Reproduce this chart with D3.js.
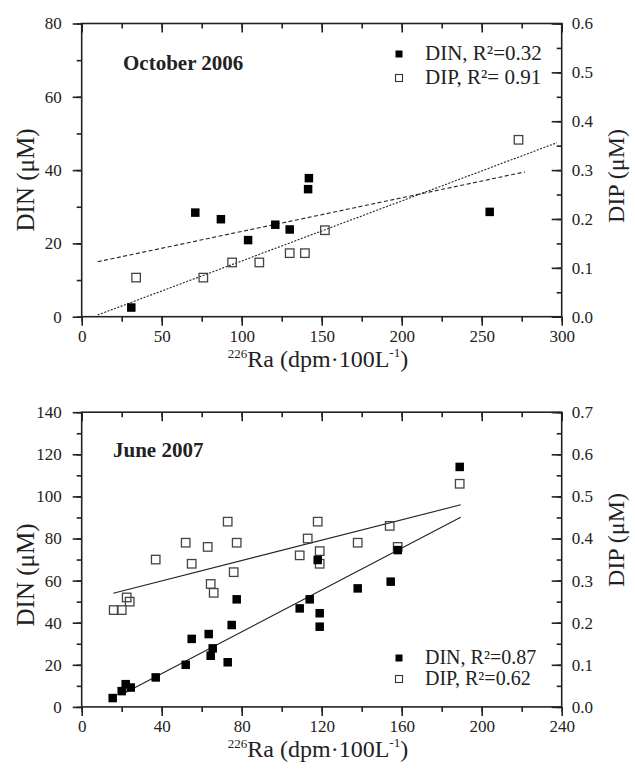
<!DOCTYPE html>
<html>
<head>
<meta charset="utf-8">
<script src="https://cdn.jsdelivr.net/npm/d3@7"></script>
<style>
    body { margin: 0; background: #fff; }
    svg { display: block; }
    text { font-family: "Liberation Serif", "Times New Roman", serif; fill: #222; }
</style>
</head>
<body>
<svg width="635" height="778"></svg>
<script>
    // October 2006 panel
    var octDinRa = [31, 71, 87, 104, 121, 130, 141.5, 142, 255];
    var octDin = [2.5, 28.4, 26.6, 20.9, 25.1, 23.8, 34.8, 37.8, 28.6];
    var octDipRa = [34, 76, 94, 111, 130, 139.5, 152, 273];
    var octDip = [0.080, 0.080, 0.111, 0.111, 0.130, 0.130, 0.177, 0.362];
    var octDinFitRa = [10, 277];
    var octDinFit = [15, 39.5];
    var octDipFitRa = [10, 297];
    var octDipFit = [0.0035, 0.356];

    // June 2007 panel
    var junDinRa = [15.5, 20, 22, 24.5, 37, 52, 55, 63.5, 64.5, 65.5, 73, 75, 77.5, 109, 114, 118, 119, 119, 138, 154.5, 158, 189];
    var junDin = [4.2, 7.5, 10.8, 9.2, 14, 20, 32.3, 34.6, 24.3, 27.8, 21.2, 38.9, 51.1, 46.8, 51.1, 69.8, 44.5, 38.1, 56.3, 59.5, 74.5, 114];
    var junDipRa = [16, 20, 22.5, 24, 37, 52, 55, 63, 64.5, 66, 73, 76, 77.5, 109, 113, 118, 119, 119, 138, 154, 158, 189];
    var junDip = [0.23, 0.23, 0.26, 0.25, 0.35, 0.39, 0.34, 0.38, 0.292, 0.271, 0.44, 0.32, 0.39, 0.36, 0.40, 0.44, 0.37, 0.34, 0.39, 0.43, 0.38, 0.53];
    var junDinFitRa = [20, 189.5];
    var junDinFit = [5.9, 90.1];
    var junDipFitRa = [15.8, 189.5];
    var junDipFit = [0.27, 0.48];

    var svg = d3.select("svg");

    function drawPanel(o) {
        var x = d3.scaleLinear().domain(o.xDomain).range([81.7, 561.7]);
        var yL = d3.scaleLinear().domain(o.yLDomain).range([o.bottom, o.top]);
        var yR = d3.scaleLinear().domain(o.yRDomain).range([o.bottom, o.top]);
        var g = svg.append("g");

        // minor + major ticks, no labels
        function ticks(axis, tr, vals, size) {
            var a = g.append("g").attr("transform", tr)
                .call(axis.tickValues(vals).tickSize(size).tickFormat(""));
            a.select(".domain").remove();
            a.selectAll("text").remove();
            a.selectAll("line").attr("stroke", "#222").attr("stroke-width", 1.6);
        }
        var xMinor = d3.range(o.xDomain[0], o.xDomain[1] + 1, o.xMinor);
        var xMajor = d3.range(o.xDomain[0], o.xDomain[1] + 1, o.xMajor);
        ticks(d3.axisBottom(x), "translate(0," + o.bottom + ")", xMinor, 5);
        ticks(d3.axisBottom(x), "translate(0," + o.bottom + ")", xMajor, 9);
        ticks(d3.axisBottom(x), "translate(0," + o.top + ")", xMinor, 5);
        ticks(d3.axisBottom(x), "translate(0," + o.top + ")", xMajor, 9);
        ticks(d3.axisLeft(yL), "translate(81.7,0)", d3.range(o.yLDomain[0], o.yLDomain[1] + 1, o.yLMinor), 5);
        ticks(d3.axisLeft(yL), "translate(81.7,0)", d3.range(o.yLDomain[0], o.yLDomain[1] + 1, o.yLMajor), 9);
        var rMinor = d3.range(0, Math.round(o.yRDomain[1] / 0.05) + 1).map(function(i) { return i * 0.05; });
        var rMajor = d3.range(0, Math.round(o.yRDomain[1] / 0.1) + 1).map(function(i) { return i * 0.1; });
        ticks(d3.axisLeft(yR), "translate(561.7,0)", rMinor, 5);
        ticks(d3.axisLeft(yR), "translate(561.7,0)", rMajor, 10);

        // tick labels
        g.append("g").attr("transform", "translate(0," + o.bottom + ")")
            .call(d3.axisBottom(x).tickValues(xMajor).tickSize(0).tickPadding(13))
            .call(function(s) { s.select(".domain").remove(); })
            .selectAll("text").style("font-size", "17px").attr("fill", "#333");
        g.append("g").attr("transform", "translate(81.7,0)")
            .call(d3.axisLeft(yL).tickValues(d3.range(o.yLDomain[0], o.yLDomain[1] + 1, o.yLMajor)).tickSize(0).tickPadding(20))
            .call(function(s) { s.select(".domain").remove(); })
            .selectAll("text").style("font-size", "17px").attr("fill", "#333");
        g.append("g").attr("transform", "translate(561.7,0)")
            .call(d3.axisRight(yR).tickValues(rMajor).tickSize(0).tickPadding(10).tickFormat(d3.format(".1f")))
            .call(function(s) { s.select(".domain").remove(); })
            .selectAll("text").style("font-size", "17px").attr("fill", "#333");

        g.append("rect")
            .attr("x", 81.7).attr("y", o.top)
            .attr("width", 480).attr("height", o.bottom - o.top)
            .attr("fill", "none").attr("stroke", "#222").attr("stroke-width", 1.6);

        // fit lines
        var lineL = d3.line().x(function(d) { return x(d[0]); }).y(function(d) { return yL(d[1]); });
        var lineR = d3.line().x(function(d) { return x(d[0]); }).y(function(d) { return yR(d[1]); });
        g.append("path").attr("d", lineL(d3.zip(o.dinFitRa, o.dinFit)))
            .attr("fill", "none").attr("stroke", "#222").attr("stroke-width", 1.1)
            .attr("stroke-dasharray", o.dinDash);
        g.append("path").attr("d", lineR(d3.zip(o.dipFitRa, o.dipFit)))
            .attr("fill", "none").attr("stroke", "#222").attr("stroke-width", 1.1)
            .attr("stroke-dasharray", o.dipDash);

        // points
        var s = 8.5;
        g.selectAll(".dip").data(d3.zip(o.dipRa, o.dip)).enter()
            .append("rect")
            .attr("x", function(d) { return x(d[0]) - s / 2; })
            .attr("y", function(d) { return yR(d[1]) - s / 2; })
            .attr("width", s).attr("height", s)
            .attr("fill", "none").attr("stroke", "#444").attr("stroke-width", 1.3);
        g.selectAll(".din").data(d3.zip(o.dinRa, o.din)).enter()
            .append("rect")
            .attr("x", function(d) { return x(d[0]) - s / 2; })
            .attr("y", function(d) { return yL(d[1]) - s / 2; })
            .attr("width", s).attr("height", s)
            .attr("fill", "#000");

        // title
        g.append("text").attr("x", o.titleX).attr("y", o.titleY)
            .style("font-size", "21px").style("font-weight", "bold").attr("fill", "#111")
            .text(o.title);

        // legend
        o.legend.forEach(function(l, i) {
            var ly = o.legendY + i * o.legendGap;
            g.append("rect").attr("x", 399 - 3.5).attr("y", ly - 3.5 - 6)
                .attr("width", 7).attr("height", 7)
                .attr("fill", i == 0 ? "#000" : "none")
                .attr("stroke", i == 0 ? "none" : "#333").attr("stroke-width", 1.1);
            g.append("text").attr("x", 425).attr("y", ly).style("font-size", o.legendFont)
                .text(l);
        });

        // axis titles
        g.append("text")
            .attr("transform", "translate(34," + o.yLabelL + ") rotate(-90)")
            .attr("text-anchor", "middle").style("font-size", "25px")
            .text("DIN (\u03bcM)");
        g.append("text")
            .attr("transform", "translate(624," + o.yLabelR + ") rotate(-90)")
            .attr("text-anchor", "middle").style("font-size", "24px")
            .text("DIP (\u03bcM)");
        var xl = g.append("text").attr("x", 318).attr("y", o.bottom + 50)
            .attr("text-anchor", "middle").style("font-size", "24px");
        xl.append("tspan").attr("dy", -9).style("font-size", "13px").text("226");
        xl.append("tspan").attr("dy", 9).text("Ra (dpm\u00b7100L");
        xl.append("tspan").attr("dy", -10).style("font-size", "13px").text("-1");
        xl.append("tspan").attr("dy", 10).text(")");
    }

    drawPanel({
        top: 23.5, bottom: 316.7,
        xDomain: [0, 300], xMajor: 50, xMinor: 25,
        yLDomain: [0, 80], yLMajor: 20, yLMinor: 10,
        yRDomain: [0, 0.6],
        dinRa: octDinRa, din: octDin, dipRa: octDipRa, dip: octDip,
        dinFitRa: octDinFitRa, dinFit: octDinFit,
        dipFitRa: octDipFitRa, dipFit: octDipFit,
        dinDash: "4,2.5", dipDash: "2,1.5",
        title: "October 2006", titleX: 123, titleY: 70,
        legend: ["DIN, R\u00b2=0.32", "DIP, R\u00b2= 0.91"],
        legendY: 60, legendGap: 24, legendFont: "21px",
        yLabelL: 180, yLabelR: 176
    });

    drawPanel({
        top: 412.2, bottom: 706.9,
        xDomain: [0, 240], xMajor: 40, xMinor: 20,
        yLDomain: [0, 140], yLMajor: 20, yLMinor: 10,
        yRDomain: [0, 0.7],
        dinRa: junDinRa, din: junDin, dipRa: junDipRa, dip: junDip,
        dinFitRa: junDinFitRa, dinFit: junDinFit,
        dipFitRa: junDipFitRa, dipFit: junDipFit,
        dinDash: null, dipDash: null,
        title: "June 2007", titleX: 113, titleY: 457,
        legend: ["DIN, R\u00b2=0.87", "DIP, R\u00b2=0.62"],
        legendY: 664, legendGap: 21, legendFont: "20px",
        yLabelL: 575, yLabelR: 540
    });
</script>
</body>
</html>
